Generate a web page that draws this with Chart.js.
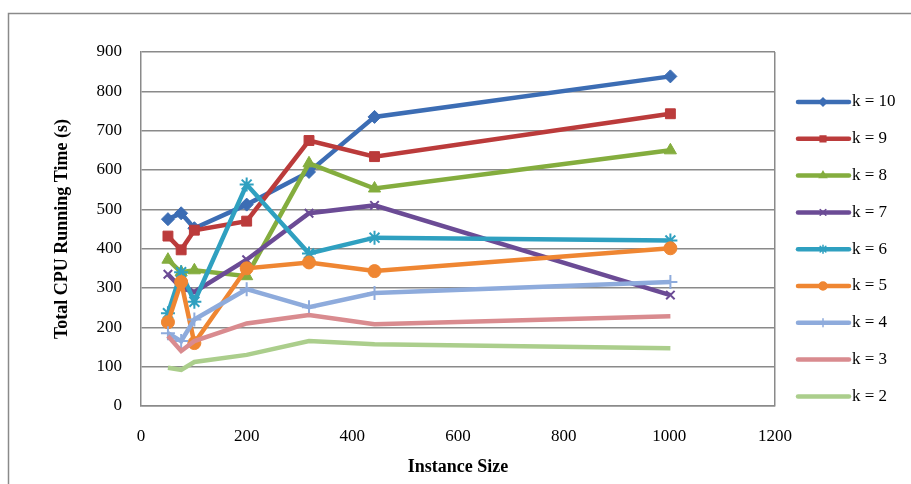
<!DOCTYPE html>
<html>
<head>
<meta charset="utf-8">
<script src="https://cdn.jsdelivr.net/npm/chart.js@4/dist/chart.umd.min.js"></script>
<style>
  html, body { margin: 0; padding: 0; background: #fff; }
  #wrap { width: 911px; height: 484px; }
</style>
</head>
<body>
<div id="wrap"><canvas id="cpuChart" width="911" height="484"></canvas></div>
<script>
// Data
const instanceSizes = [51, 76, 101, 200, 318, 442, 1002];
const seriesLabels = ['k = 10', 'k = 9', 'k = 8', 'k = 7', 'k = 6', 'k = 5', 'k = 4', 'k = 3', 'k = 2'];
const k10 = [475, 490, 452, 512, 595, 735, 838];
const k9 = [432, 397, 447, 470, 675, 634, 743];
const k8 = [372, 340, 345, 330, 617, 553, 650];
const k7 = [335, 300, 290, 372, 490, 510, 282];
const k6 = [236, 340, 265, 563, 388, 428, 421];
const k5 = [213, 315, 160, 350, 365, 343, 401];
const k4 = [185, 165, 220, 297, 251, 287, 315];
const k3 = [178, 140, 165, 210, 231, 208, 228];
const k2 = [97, 92, 112, 130, 165, 157, 147];
const xTicks = [0, 200, 400, 600, 800, 1000, 1200];
const yTicks = [0, 100, 200, 300, 400, 500, 600, 700, 800, 900];

const seriesValues = [k10, k9, k8, k7, k6, k5, k4, k3, k2];
const colors = ['#3c6db4', '#bb3b3b', '#84ad3e', '#6b4b95', '#2fa0c0', '#ef8632', '#8eabdc', '#d98b8f', '#abce8c'];
const markers = ['rectRot', 'rect', 'triangle', 'crossRot', 'star', 'circle', 'cross', false, false];
const radii = [6.5, 7, 7, 6, 7, 6.5, 7, 0, 0];

const serif = "'Liberation Serif', 'DejaVu Serif', serif";

const datasets = seriesValues.map((vals, i) => ({
  label: seriesLabels[i],
  data: vals.map((v, j) => ({ x: instanceSizes[j], y: v })),
  borderColor: colors[i],
  backgroundColor: colors[i],
  borderWidth: 4.5,
  tension: 0,
  pointStyle: markers[i],
  pointRadius: radii[i],
  pointHoverRadius: radii[i],
  pointBorderWidth: (markers[i] === 'crossRot' || markers[i] === 'star' || markers[i] === 'cross') ? 2 : 1,
  pointBorderColor: colors[i],
  pointBackgroundColor: colors[i],
  order: seriesValues.length - 1 - i
}));

// outer frame of the chart
const framePlugin = {
  id: 'frame',
  beforeDraw(chart) {
    const ctx = chart.ctx;
    ctx.save();
    ctx.fillStyle = '#fff';
    ctx.fillRect(0, 0, chart.width, chart.height);
    ctx.strokeStyle = '#8a8a8a';
    ctx.lineWidth = 1.5;
    ctx.strokeRect(8.5, 13.5, 1000, 1000);
    ctx.restore();
  }
};

// legend on the right: line sample + marker + label
const legendPlugin = {
  id: 'sideLegend',
  afterDraw(chart) {
    const ctx = chart.ctx;
    ctx.save();
    chart.data.datasets.forEach((ds, i) => {
      const y = 102 + i * 36.8;
      ctx.strokeStyle = ds.borderColor;
      ctx.lineWidth = 4.5;
      ctx.lineCap = 'round';
      ctx.beginPath();
      ctx.moveTo(798, y);
      ctx.lineTo(849, y);
      ctx.stroke();
      if (ds.pointStyle) {
        ctx.fillStyle = ds.borderColor;
        ctx.strokeStyle = ds.borderColor;
        ctx.lineWidth = 1.5;
        Chart.helpers.drawPoint(ctx, { pointStyle: ds.pointStyle, radius: 4, borderWidth: 1.5 }, 823, y);
      }
      ctx.fillStyle = '#000';
      ctx.font = '17px ' + serif;
      ctx.textBaseline = 'middle';
      ctx.textAlign = 'left';
      ctx.fillText(ds.label, 852, y);
    });
    ctx.restore();
  }
};

new Chart(document.getElementById('cpuChart'), {
  type: 'line',
  data: { datasets },
  options: {
    responsive: false,
    animation: false,
    layout: { padding: { left: 0, right: 136, top: 52, bottom: 0 } },
    plugins: {
      legend: { display: false },
      tooltip: { enabled: false }
    },
    scales: {
      x: {
        type: 'linear',
        min: xTicks[0],
        max: xTicks[xTicks.length - 1],
        afterBuildTicks: (s) => { s.ticks = xTicks.map(v => ({ value: v })); },
        afterFit: (s) => { s.height = 78; },
        grid: {
          drawTicks: false,
          color: (c) => c.tick && c.tick.value === 1200 ? '#8a8a8a' : 'rgba(0,0,0,0)',
          lineWidth: 1.5
        },
        border: { color: '#8a8a8a', width: 1.5 },
        ticks: {
          color: '#000',
          font: { family: serif, size: 17 },
          padding: 20,
          callback: (v) => String(v)
        },
        title: {
          display: true,
          text: 'Instance Size',
          color: '#000',
          font: { family: serif, size: 18, weight: 'bold' },
          padding: { top: 0, bottom: 6 }
        }
      },
      y: {
        min: yTicks[0],
        max: yTicks[yTicks.length - 1],
        afterBuildTicks: (s) => { s.ticks = yTicks.map(v => ({ value: v })); },
        afterFit: (s) => { s.width = 141; },
        grid: { drawTicks: false, color: '#8a8a8a', lineWidth: 1.5 },
        border: { color: '#8a8a8a', width: 1.5 },
        ticks: { color: '#000', font: { family: serif, size: 17 }, padding: 19 },
        title: {
          display: true,
          text: 'Total CPU Running Time (s)',
          color: '#000',
          font: { family: serif, size: 18, weight: 'bold' },
          padding: { top: 52, bottom: 0 }
        }
      }
    }
  },
  plugins: [framePlugin, legendPlugin]
});
</script>
</body>
</html>
